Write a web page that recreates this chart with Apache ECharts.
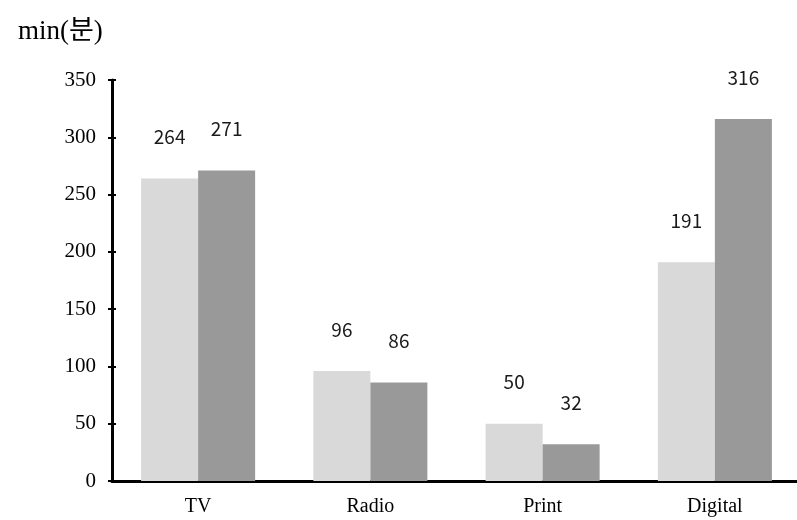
<!DOCTYPE html>
<html><head><meta charset="utf-8">
<script src="https://cdn.jsdelivr.net/npm/echarts@6/dist/echarts.min.js"></script>
<style>html,body{margin:0;padding:0;background:#fff}#c{width:797px;height:520px}</style>
</head><body><div id="c"></div>
<script>
const categories = ['TV', 'Radio', 'Print', 'Digital'];
const seriesA = [264, 96, 50, 191];
const seriesB = [271, 86, 32, 316];
const yTicks = { min: 0, max: 350, interval: 50 };
const unitLabel = 'min(분)';

const chart = echarts.init(document.getElementById('c'), null, { renderer: 'canvas' });
const serif = '"Liberation Serif", "Times New Roman", "Noto Sans CJK KR", serif';
const sans = '"Noto Sans CJK KR", "Noto Sans", sans-serif';
const labelCfg = { show: true, position: 'top', distance: 32, color: '#1a1a1a', fontFamily: sans, fontSize: 19 };
chart.setOption({
  animation: false,
  title: { text: unitLabel, left: 13, top: 13, textStyle: { fontFamily: serif, fontSize: 27, fontWeight: 'normal', color: '#000' } },
  grid: { left: 112, width: 689, top: 80, bottom: 39, containLabel: false, outerBoundsMode: 'none' },
  xAxis: {
    type: 'category', data: categories,
    axisLine: { lineStyle: { color: '#000', width: 3 } },
    axisTick: { show: false },
    axisLabel: { fontFamily: serif, fontSize: 20, color: '#000', margin: 16 }
  },
  yAxis: [{
    type: 'value', min: yTicks.min, max: yTicks.max, interval: yTicks.interval,
    axisLine: { show: true, lineStyle: { color: '#000', width: 3 } },
    axisTick: { show: true, length: 4, lineStyle: { color: '#000', width: 2 } },
    axisLabel: { fontFamily: serif, fontSize: 21, color: '#000', margin: 16 },
    splitLine: { show: false }
  }, {
    type: 'value', position: 'left', min: yTicks.min, max: yTicks.max, interval: yTicks.interval,
    axisLine: { show: false },
    axisTick: { show: true, inside: true, length: 4, lineStyle: { color: '#000', width: 2 } },
    axisLabel: { show: false }, splitLine: { show: false }
  }],
  series: [
    { type: 'bar', data: seriesA, barWidth: 57, barGap: '0%', itemStyle: { color: '#d9d9d9' }, label: labelCfg },
    { type: 'bar', data: seriesB, barWidth: 57, barGap: '0%', itemStyle: { color: '#999999' }, label: labelCfg }
  ]
});
</script></body></html>
